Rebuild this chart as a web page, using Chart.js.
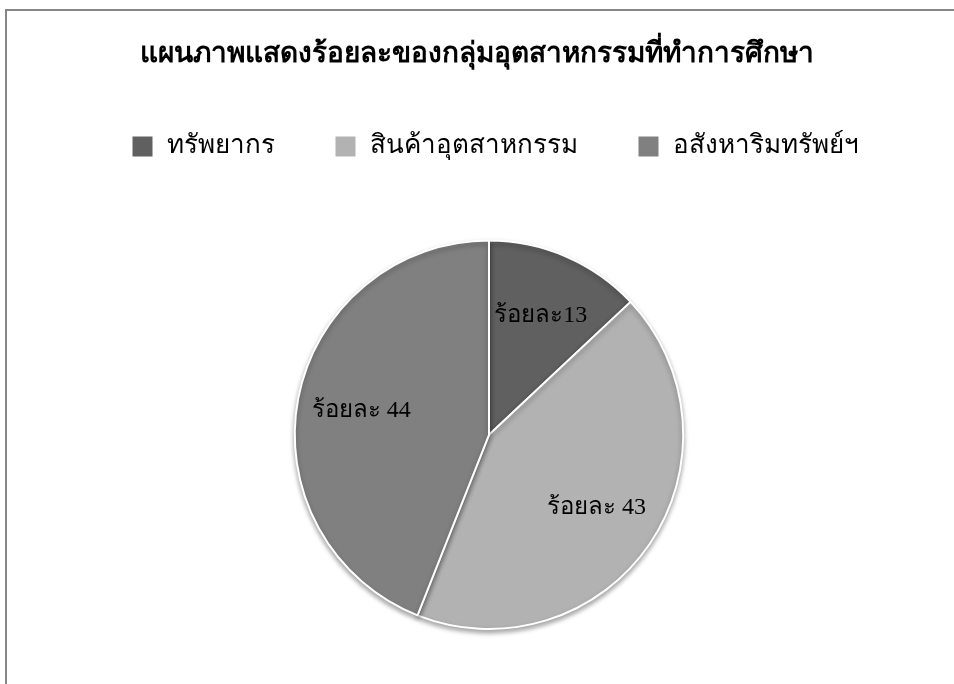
<!DOCTYPE html>
<html>
<head>
<meta charset="utf-8">
<script src="https://cdn.jsdelivr.net/npm/chart.js@4"></script>
<style>
  html, body { margin: 0; padding: 0; background: #fff; }
  #frame {
    position: absolute; left: 5px; top: 9px; width: 960px; height: 700px;
    border-top: 2px solid #878787; border-left: 2px solid #878787;
  }
  #wrap { position: absolute; left: 0; top: 0; width: 954px; height: 684px; }
</style>
</head>
<body>
<div id="frame"></div>
<div id="wrap"><canvas id="pieChart"></canvas></div>
<script>
const chartTitle = 'แผนภาพแสดงร้อยละของกลุ่มอุตสาหกรรมที่ทำการศึกษา';
const categories = ['ทรัพยากร', 'สินค้าอุตสาหกรรม', 'อสังหาริมทรัพย์ฯ'];
const percentages = [13, 43, 44];
const sliceLabels = ['ร้อยละ13', 'ร้อยละ 43', 'ร้อยละ 44'];
const sliceColors = ['#606060', '#b2b2b2', '#808080'];

const thaiFont = "'Liberation Serif', 'DejaVu Serif', serif";

// extra room under the legend so the pie sits lower
const legendGap = {
  id: 'legendGap',
  beforeInit(chart) {
    const origFit = chart.legend.fit;
    chart.legend.fit = function () {
      origFit.bind(chart.legend)();
      this.height += 70;
    };
  },
  // pie and legend sit a little right of the title
  afterLayout(chart) {
    chart.chartArea.left += 24;
    chart.legend.left += 36;
  }
};

// soft drop shadow under the pie
const pieShadow = {
  id: 'pieShadow',
  beforeDatasetsDraw(chart) {
    const ctx = chart.ctx;
    ctx.save();
    ctx.shadowColor = 'rgba(0,0,0,0.35)';
    ctx.shadowBlur = 5;
    ctx.shadowOffsetY = 3;
  },
  afterDatasetsDraw(chart) {
    chart.ctx.restore();
  }
};

// text inside each slice
const sliceText = {
  id: 'sliceText',
  afterDatasetsDraw(chart) {
    const ctx = chart.ctx;
    const arcs = chart.getDatasetMeta(0).data;
    ctx.save();
    ctx.font = '24px ' + thaiFont;
    ctx.fillStyle = '#000';
    ctx.textAlign = 'center';
    ctx.textBaseline = 'middle';
    arcs.forEach((arc, i) => {
      const mid = (arc.startAngle + arc.endAngle) / 2;
      const r = arc.outerRadius * 0.67;
      ctx.fillText(sliceLabels[i], arc.x + Math.cos(mid) * r, arc.y + Math.sin(mid) * r);
    });
    ctx.restore();
  }
};

new Chart(document.getElementById('pieChart'), {
  type: 'pie',
  data: {
    labels: categories,
    datasets: [{
      data: percentages,
      backgroundColor: sliceColors,
      borderColor: '#ffffff',
      borderWidth: 2
    }]
  },
  options: {
    responsive: true,
    maintainAspectRatio: false,
    animation: false,
    layout: { padding: { top: 0, bottom: 54, left: 0, right: 0 } },
    plugins: {
      title: {
        display: true,
        text: chartTitle,
        color: '#000',
        font: { family: thaiFont, size: 28, weight: 'bold' },
        padding: { top: 38, bottom: 2 }
      },
      legend: {
        position: 'top',
        labels: {
          color: '#000',
          font: { family: thaiFont, size: 26 },
          boxWidth: 22,
          boxHeight: 22,
          padding: 60
        }
      },
      tooltip: { enabled: false }
    }
  },
  plugins: [legendGap, pieShadow, sliceText]
});
</script>
</body>
</html>
